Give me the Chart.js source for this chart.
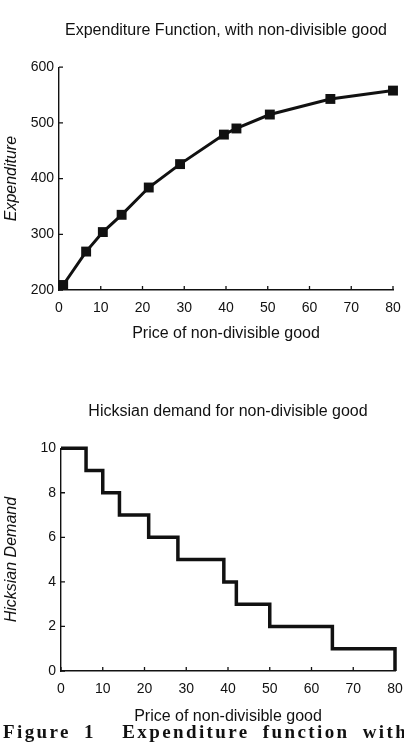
<!DOCTYPE html>
<html>
<head>
<meta charset="utf-8">
<script src="https://cdn.jsdelivr.net/npm/chart.js@4.4.0/dist/chart.umd.min.js"></script>
<style>
  html, body { margin: 0; padding: 0; background: #fff; }
  body { width: 404px; height: 744px; overflow: hidden; position: relative; }
  .box { position: absolute; left: 0; width: 404px; }
  #caption {
    position: absolute; left: 3px; top: 721px; white-space: nowrap;
    font-family: "Liberation Serif", serif; font-weight: bold; font-size: 19px;
    letter-spacing: 2.4px; word-spacing: 6px; color: #111;
  }
</style>
</head>
<body>
<div class="box" style="top:0;height:370px"><canvas id="expChart" width="404" height="370"></canvas></div>
<div class="box" style="top:370px;height:374px"><canvas id="hickChart" width="404" height="374"></canvas></div>
<div id="caption">Figure 1&nbsp;&nbsp;Expenditure function with</div>

<script>
// Expenditure function (top chart)
const expPrices = [1, 6.5, 10.5, 15, 21.5, 29, 39.5, 42.5, 50.5, 65, 80];
const expValues = [209, 269, 304, 335, 384, 426, 479, 490, 515, 543, 558];

// Hicksian demand (bottom chart), step points
const hickPrices = [0, 6, 10, 14, 21, 28, 39, 42, 50, 65, 80];
const hickQty    = [10, 9, 8, 7, 6, 5, 4, 3, 2, 1, 0];

const xTicks = [0, 10, 20, 30, 40, 50, 60, 70, 80];

const INK = '#111';
const FONT = 'Liberation Sans, Arial, sans-serif';

// tick marks point inward, drawn from the library's scales
const innerTicks = {
  id: 'innerTicks',
  afterDraw(chart) {
    const ctx = chart.ctx;
    const area = chart.chartArea;
    const len = 4;
    ctx.save();
    ctx.strokeStyle = INK;
    ctx.lineWidth = 1.3;
    ctx.beginPath();
    chart.scales.x.ticks.forEach(t => {
      const px = chart.scales.x.getPixelForValue(t.value);
      ctx.moveTo(px, area.bottom);
      ctx.lineTo(px, area.bottom - len);
    });
    chart.scales.y.ticks.forEach(t => {
      const py = chart.scales.y.getPixelForValue(t.value);
      ctx.moveTo(area.left, py);
      ctx.lineTo(area.left + len, py);
    });
    ctx.stroke();
    ctx.restore();
  }
};

function makeOptions(cfg) {
  return {
    responsive: false,
    animation: false,
    layout: { padding: { left: 0, right: cfg.padRight, top: 0, bottom: 0 } },
    plugins: {
      legend: { display: false },
      tooltip: { enabled: false },
      title: {
        display: true,
        fullSize: false,
        text: cfg.title,
        color: INK,
        font: { family: FONT, size: 16, weight: 'normal' },
        padding: { top: cfg.titleTop, bottom: cfg.titleBottom }
      }
    },
    scales: {
      x: {
        type: 'linear',
        min: 0, max: 80,
        afterBuildTicks: s => { s.ticks = xTicks.map(v => ({ value: v })); },
        afterFit: s => { s.height = cfg.xHeight; s.paddingLeft = 0; s.paddingRight = 0; },
        grid: { display: false, drawTicks: false },
        border: { display: true, color: INK, width: 1.4 },
        ticks: { color: INK, font: { family: FONT, size: 14 }, padding: cfg.xTickPad, maxRotation: 0 },
        title: {
          display: true, text: 'Price of non-divisible good', color: INK,
          font: { family: FONT, size: 16 }, padding: { top: 0, bottom: cfg.xTitlePad }
        }
      },
      y: {
        min: cfg.yMin, max: cfg.yMax,
        ticks: { stepSize: cfg.yStep, color: INK, font: { family: FONT, size: 14 }, padding: 5 },
        afterFit: s => { s.width = cfg.yWidth; },
        grid: { display: false, drawTicks: false },
        border: { display: true, color: INK, width: 1.4 },
        title: {
          display: true, text: cfg.yTitle, color: INK,
          font: { family: FONT, size: 16, style: 'italic' }, padding: { top: 2, bottom: 0 }
        }
      }
    }
  };
}

new Chart(document.getElementById('expChart'), {
  type: 'scatter',
  data: {
    datasets: [{
      data: expPrices.map((p, i) => ({ x: p, y: expValues[i] })),
      showLine: true,
      clip: false,
      borderColor: INK,
      backgroundColor: INK,
      borderWidth: 3,
      pointStyle: 'rect',
      pointRadius: 7,
      pointBorderWidth: 0
    }]
  },
  options: makeOptions({
    title: 'Expenditure Function, with non-divisible good',
    titleTop: 21, titleBottom: 27, padRight: 11,
    xHeight: 80, xTickPad: 10, xTitlePad: 27,
    yMin: 200, yMax: 600, yStep: 100, yWidth: 59,
    yTitle: 'Expenditure'
  }),
  plugins: [innerTicks]
});

new Chart(document.getElementById('hickChart'), {
  type: 'line',
  data: {
    datasets: [{
      data: hickPrices.map((p, i) => ({ x: p, y: hickQty[i] })),
      stepped: 'before',
      clip: false,
      borderColor: INK,
      borderWidth: 3.5,
      pointRadius: 0,
      fill: false
    }]
  },
  options: makeOptions({
    title: 'Hicksian demand for non-divisible good',
    titleTop: 32, titleBottom: 27, padRight: 9,
    xHeight: 73, xTickPad: 10, xTitlePad: 18,
    yMin: 0, yMax: 10, yStep: 2, yWidth: 61,
    yTitle: 'Hicksian Demand'
  }),
  plugins: [innerTicks]
});
</script>
</body>
</html>
